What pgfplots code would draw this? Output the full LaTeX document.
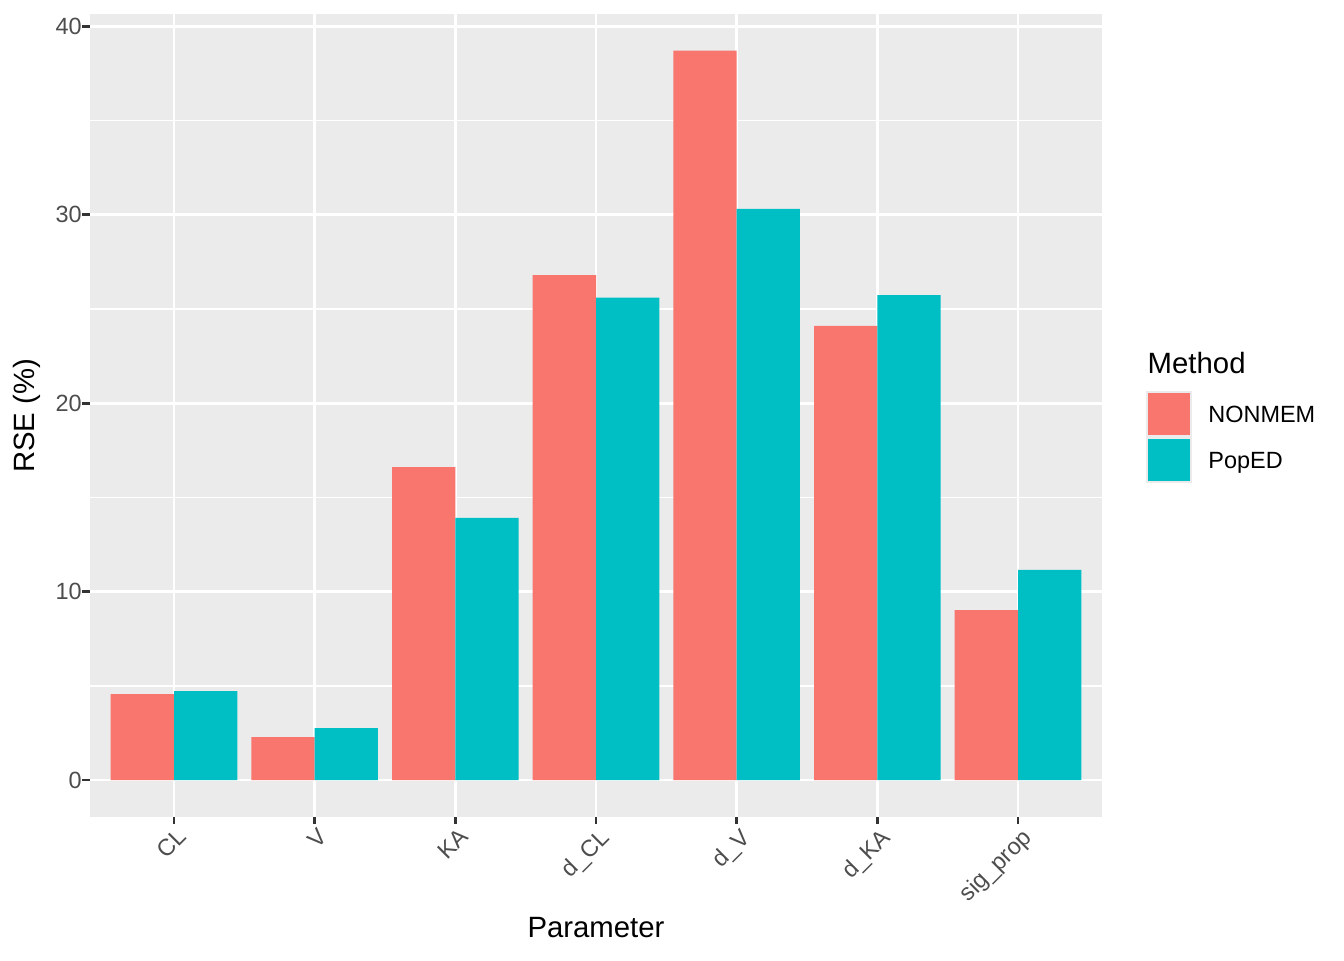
\documentclass[border=0pt]{standalone}
\usepackage{fontspec}
\setmainfont{Liberation Sans}
\usepackage{pgfplots}
\pgfplotsset{compat=1.18}
\definecolor{panelbg}{HTML}{EBEBEB}
\definecolor{tickgray}{HTML}{333333}
\definecolor{labgray}{HTML}{4D4D4D}
\definecolor{nonmem}{HTML}{F8766D}
\definecolor{poped}{HTML}{00BFC4}
\pgfplotsset{mykey/.style={legend image code/.code={%
  \fill[panelbg] (0pt,-7.74pt) rectangle (17.28pt,9.54pt);
  \fill[#1,draw=none] (0.7pt,-7.04pt) rectangle (16.58pt,8.84pt);}}}
\begin{document}
\begin{tikzpicture}
\useasboundingbox (0,0) rectangle (504pt,360pt);
\begin{axis}[
  at={(33.6pt,53.8pt)}, anchor=south west,
  scale only axis, width=379.8pt, height=300.9pt,
  xmin=-0.6, xmax=6.6, ymin=-1.936, ymax=40.65,
  axis background/.style={fill=panelbg},
  axis line style={draw=none},
  ybar,
  xtick={0,1,2,3,4,5,6},
  xticklabels={CL,V,KA,d\_CL,d\_V,d\_KA,sig\_prop},
  ytick={0,10,20,30,40}, minor ytick={5,15,25,35},
  grid=both,
  major grid style={white, line width=1.07pt},
  minor grid style={white, line width=0.53pt},
  tick align=outside, tick pos=left,
  major tick length=2.75pt, minor tick length=0pt,
  tick style={color=tickgray, line width=1.07pt},
  /pgf/number format/assume math mode=true,
  yticklabel style={font=\fontsize{8.8}{10.56}\selectfont, color=labgray, inner sep=0pt, anchor=east},
  xticklabel style={font=\fontsize{8.8}{10.56}\selectfont, color=labgray, inner sep=0pt, rotate=45, anchor=north east, yshift=-1.3pt},
  legend style={at={(1.0431,0.5304)}, anchor=north west, draw=none, fill=none,
    inner sep=0pt, outer sep=0pt, row sep=0pt, column sep=6.1pt,
    font=\fontsize{8.8}{10.56}\selectfont, nodes={inner sep=0pt, outer sep=0pt}},
  legend cell align=left,
]
\addplot[fill=nonmem, draw=none, bar width=0.45, bar shift=-0.225, mykey] coordinates {
  (0,4.56) (1,2.28) (2,16.61) (3,26.80) (4,38.71) (5,24.11) (6,9.02)};
\addlegendentry{NONMEM}
\addplot[fill=poped, draw=none, bar width=0.45, bar shift=0.225, mykey] coordinates {
  (0,4.72) (1,2.76) (2,13.91) (3,25.60) (4,30.31) (5,25.74) (6,11.15)};
\addlegendentry{PopED}
\end{axis}
\node[anchor=base, font=\fontsize{11}{13.2}\selectfont] at (223.5pt,8.44pt) {Parameter};
\node[anchor=base, rotate=90, font=\fontsize{11}{13.2}\selectfont] at (12.9pt,204.1pt) {RSE (\%)};
\node[anchor=base west, font=\fontsize{11}{13.2}\selectfont, inner sep=0pt] at (430.2pt,220.0pt) {Method};
\end{tikzpicture}
\end{document}
